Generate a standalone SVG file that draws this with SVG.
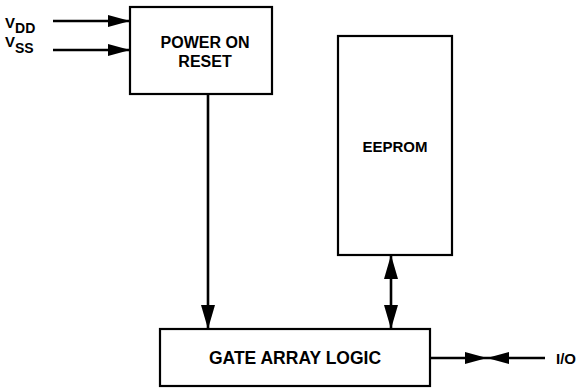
<svg xmlns="http://www.w3.org/2000/svg" width="581" height="388" viewBox="0 0 581 388">
<style>
.box{fill:#fff;stroke:#000;stroke-width:2.2}
.ln{fill:none;stroke:#000;stroke-width:2.6}
.t{font-family:"Liberation Sans",Arial,Helvetica,sans-serif;font-weight:bold;fill:#000}
</style>
<defs>
<marker id="ah" markerUnits="userSpaceOnUse" markerWidth="22" markerHeight="12" refX="22" refY="6" orient="auto">
<path d="M0,0 L22,6 L0,12 z" fill="#000"/>
</marker>
<marker id="ahL" markerUnits="userSpaceOnUse" markerWidth="24" markerHeight="14" refX="24" refY="7" orient="auto-start-reverse">
<path d="M0,0 L24,7 L0,14 z" fill="#000"/>
</marker>
</defs>
<rect width="581" height="388" fill="#fff"/>
<g id="connectors">
<path class="ln" d="M53,21 H130" marker-end="url(#ah)"/>
<path class="ln" d="M53,50 H130" marker-end="url(#ah)"/>
<path class="ln" d="M208,94 V329" marker-end="url(#ahL)"/>
<path class="ln" d="M391,255 V329" marker-start="url(#ahL)" marker-end="url(#ahL)"/>
<path class="ln" d="M430,358 H487" marker-end="url(#ah)"/>
<path class="ln" d="M545,358 H487" marker-end="url(#ah)"/>
</g>
<g id="power-on-reset">
<rect class="box" x="130" y="7" width="142" height="87"/>
<text class="t" x="205" y="48" font-size="16" text-anchor="middle">POWER ON</text>
<text class="t" x="205" y="67" font-size="16" text-anchor="middle">RESET</text>
</g>
<g id="eeprom">
<rect class="box" x="338" y="36" width="114" height="219"/>
<text class="t" x="395" y="152" font-size="15" text-anchor="middle">EEPROM</text>
</g>
<g id="gate-array-logic">
<rect class="box" x="160" y="329" width="270" height="57"/>
<text class="t" x="295" y="364" font-size="17.5" text-anchor="middle">GATE ARRAY LOGIC</text>
</g>
<g id="vdd-label">
<text class="t" x="5" y="28" font-size="15">V<tspan font-size="14" dy="5">DD</tspan></text>
</g>
<g id="vss-label">
<text class="t" x="5" y="47" font-size="15">V<tspan font-size="14" dy="6">SS</tspan></text>
</g>
<g id="io-label">
<text class="t" x="556" y="364" font-size="15">I/O</text>
</g>
</svg>
